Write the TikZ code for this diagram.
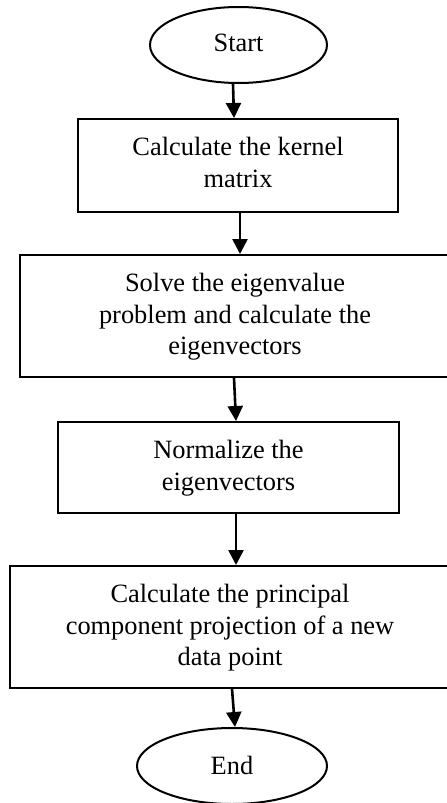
\documentclass[tikz,border=0pt]{standalone}
\usepackage{fontspec}
\setmainfont{Liberation Serif}
\usetikzlibrary{arrows.meta,shapes.geometric}
\begin{document}
\begin{tikzpicture}[x=0.5pt,y=-0.5pt,
  font=\fontsize{13.2}{15.8}\selectfont,
  stepbox/.style={draw,line width=1pt,rectangle,inner sep=0pt},
  term/.style={draw,line width=1pt,ellipse,inner sep=0pt},
  boxtext/.style={anchor=north,inner sep=0pt,align=center},
  arr/.style={line width=1.3pt,-{Triangle[length=7.5pt,width=7.5pt]}}]
\useasboundingbox (0,0) rectangle (446,803);
\node[term,minimum width=88.5pt,minimum height=38pt] (start) at (238.5,45) {};
\node (startt) at (238.5,43) {Start};
\node[stepbox,minimum width=160pt,minimum height=46.5pt] (b1) at (238,165.5) {};
\node[boxtext] (t1) at ([yshift=-9.5pt]b1.north) {Calculate the kernel\\matrix};
\node[stepbox,minimum width=215pt,minimum height=61pt] (b2) at (235,316) {};
\node[boxtext] (t2) at ([yshift=-9.5pt]b2.north) {Solve the eigenvalue\\problem and calculate the\\eigenvectors};
\node[stepbox,minimum width=170.5pt,minimum height=45.5pt] (b3) at (228.5,467.5) {};
\node[boxtext] (t3) at ([yshift=-9.5pt]b3.north) {Normalize the\\eigenvectors};
\node[stepbox,minimum width=220pt,minimum height=61pt] (b4) at (230,627) {};
\node[boxtext] (t4) at ([yshift=-9.5pt]b4.north) {Calculate the principal\\component projection of a new\\data point};
\node[term,minimum width=95pt,minimum height=38pt] (end) at (232,766) {};
\node (endt) at (232,765) {End};
\draw[arr] ([xshift=-2.75pt]start.south) -- ([xshift=-2pt]b1.north);
\draw[arr] ([xshift=1pt]b1.south) -- ([xshift=2.5pt]b2.north);
\draw[arr] ([xshift=-0.5pt]b2.south) -- ([xshift=3.75pt]b3.north);
\draw[arr] ([xshift=3.75pt]b3.south) -- ([xshift=3pt]b4.north);
\draw[arr] ([xshift=1pt]b4.south) -- ([xshift=1.5pt]end.north);
\end{tikzpicture}
\end{document}
